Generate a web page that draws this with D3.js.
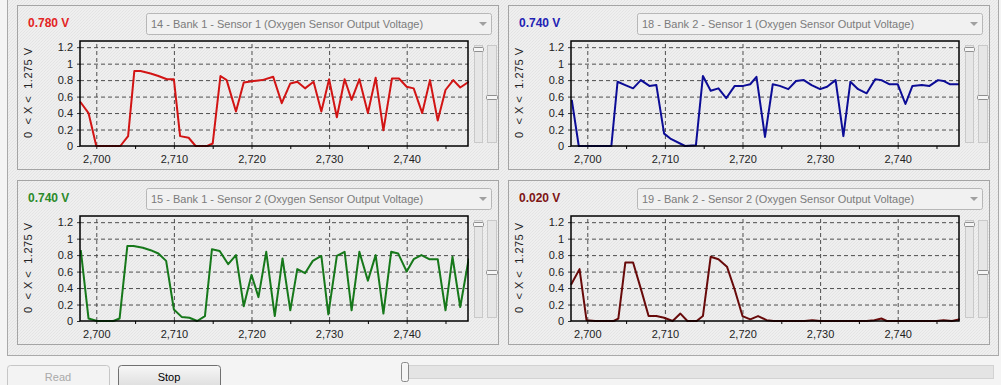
<!DOCTYPE html>
<html lang="en">
<head>
<meta charset="UTF-8">
<title>oxygen sensors</title>
<script src="https://d3js.org/d3.v7.min.js"></script>
<style>
  html, body { margin: 0; padding: 0; background: #f4f4f4; overflow: hidden; }
  svg { display: block; font-family: "Liberation Sans", Arial, sans-serif; }
</style>
</head>
<body>
<svg></svg>
<script>
const width = 1001;
const height = 385;

// axis setup
const xDomain = [2697.9, 2747.9];
const yDomain = [0, 1.275];
const xTicks = [2700, 2710, 2720, 2730, 2740];
const xMinorTicks = [2705, 2715, 2725, 2735, 2745];
const yTicks = [0, 0.2, 0.4, 0.6, 0.8, 1, 1.2];
const yLabel = "0  < X <  1.275 V";

const sensorNames = [
    "14 - Bank 1 - Sensor 1 (Oxygen Sensor Output Voltage)",
    "18 - Bank 2 - Sensor 1 (Oxygen Sensor Output Voltage)",
    "15 - Bank 1 - Sensor 2 (Oxygen Sensor Output Voltage)",
    "19 - Bank 2 - Sensor 2 (Oxygen Sensor Output Voltage)"
];
const readouts = ["0.780 V", "0.740 V", "0.740 V", "0.020 V"];

// bank 1 sensor 1
const b1s1Time = [2697.9, 2699, 2700, 2701, 2702, 2703.1, 2704.1, 2704.9, 2705.7, 2707, 2708, 2709.1, 2710, 2710.8, 2711.9, 2712.8, 2714.3, 2715, 2716, 2716.8, 2718, 2719, 2720.3, 2721.4, 2722.8, 2723.9, 2725, 2725.9, 2726.9, 2728, 2729, 2730, 2731, 2732, 2732.9, 2733.9, 2735, 2736, 2737, 2738.1, 2739, 2740, 2740.9, 2742, 2743, 2744, 2745, 2746, 2746.9, 2748];
const b1s1Volt = [0.54, 0.40, 0, 0, 0, 0, 0.12, 0.91, 0.91, 0.88, 0.85, 0.81, 0.81, 0.12, 0.10, 0, 0, 0.03, 0.85, 0.80, 0.42, 0.77, 0.79, 0.80, 0.84, 0.52, 0.76, 0.78, 0.70, 0.78, 0.42, 0.81, 0.35, 0.81, 0.56, 0.81, 0.40, 0.83, 0.19, 0.82, 0.82, 0.72, 0.70, 0.40, 0.80, 0.31, 0.68, 0.80, 0.71, 0.78];

// bank 2 sensor 1
const b2s1Time = [2698.0, 2698.9, 2700, 2701, 2702, 2703.1, 2703.9, 2704.9, 2705.9, 2706.9, 2708.0, 2708.9, 2709.9, 2710.7, 2712.6, 2714.0, 2714.9, 2715.9, 2716.9, 2717.9, 2719.0, 2720.1, 2721.0, 2721.8, 2722.9, 2723.9, 2724.8, 2725.9, 2726.9, 2727.9, 2728.9, 2730.0, 2730.9, 2732.0, 2733.0, 2733.9, 2734.9, 2736.0, 2737.1, 2737.9, 2738.9, 2740.0, 2741.0, 2741.9, 2743.1, 2744.1, 2745.2, 2745.9, 2746.7, 2747.9];
const b2s1Volt = [0.56, 0, 0, 0, 0, 0, 0.78, 0.74, 0.70, 0.80, 0.73, 0.74, 0.15, 0.09, 0, 0.01, 0.85, 0.67, 0.70, 0.58, 0.73, 0.73, 0.75, 0.84, 0.11, 0.75, 0.73, 0.69, 0.79, 0.80, 0.74, 0.69, 0.72, 0.80, 0.12, 0.78, 0.69, 0.64, 0.81, 0.80, 0.75, 0.75, 0.51, 0.73, 0.74, 0.73, 0.80, 0.79, 0.75, 0.75];

// bank 1 sensor 2
const b1s2Time = [2698.0, 2699.0, 2700.1, 2701, 2702.2, 2703.0, 2704.0, 2704.8, 2706, 2707.0, 2708.0, 2709.0, 2710.0, 2711.0, 2712.0, 2713.0, 2714.0, 2714.9, 2715.9, 2717.0, 2718.0, 2719.0, 2720.0, 2720.9, 2721.9, 2723.0, 2724.0, 2725.0, 2725.9, 2726.9, 2727.9, 2729.0, 2729.9, 2731.0, 2732.0, 2732.9, 2733.9, 2735.0, 2736.0, 2737.0, 2738.0, 2738.9, 2740.0, 2740.9, 2741.9, 2742.9, 2744.0, 2745.0, 2745.9, 2746.9, 2748.0];
const b1s2Volt = [0.86, 0.03, 0, 0, 0, 0.03, 0.91, 0.91, 0.89, 0.86, 0.82, 0.73, 0.14, 0.05, 0.04, 0, 0.06, 0.87, 0.85, 0.69, 0.80, 0.18, 0.56, 0.29, 0.84, 0.06, 0.76, 0.13, 0.63, 0.58, 0.73, 0.79, 0.08, 0.79, 0.84, 0.13, 0.84, 0.49, 0.80, 0.09, 0.84, 0.82, 0.60, 0.75, 0.80, 0.75, 0.75, 0.13, 0.78, 0.17, 0.76];

// bank 2 sensor 2
const b2s2Time = [2697.9, 2699, 2699.9, 2701, 2703.4, 2704, 2704.9, 2705.9, 2707, 2707.9, 2708.9, 2709.9, 2711, 2712, 2712.9, 2714.1, 2714.9, 2715.9, 2716.9, 2718, 2719, 2720, 2721, 2722, 2723.1, 2724, 2728, 2729, 2730, 2736, 2737, 2737.9, 2738.6, 2745, 2745.9, 2747, 2748];
const b2s2Volt = [0.44, 0.63, 0.01, 0, 0, 0.03, 0.71, 0.71, 0.36, 0.06, 0.06, 0.04, 0, 0.09, 0, 0, 0.06, 0.78, 0.75, 0.66, 0.38, 0.06, 0.02, 0.06, 0.01, 0, 0, 0.01, 0, 0, 0.01, 0.03, 0, 0, 0.01, 0, 0.02];

const lineColors = ["#d21414", "#0c0c96", "#16781a", "#680a0a"];
const readoutColors = ["#e32424", "#2222b4", "#2a8a2a", "#7e1414"];

const panels = [
    { col: 0, row: 0, time: b1s1Time, volt: b1s1Volt },
    { col: 1, row: 0, time: b2s1Time, volt: b2s1Volt },
    { col: 0, row: 1, time: b1s2Time, volt: b1s2Volt },
    { col: 1, row: 1, time: b2s2Time, volt: b2s2Volt }
];

const panelW = 481, panelH = 164;
const plot = { left: 63, top: 36, w: 388, h: 105 };

const svg = d3.select("svg")
    .attr("width", width)
    .attr("height", height);

// textured gray like the screenshot
const defs = svg.append("defs");
const tex = defs.append("pattern")
    .attr("id", "tex")
    .attr("width", 3).attr("height", 3)
    .attr("patternUnits", "userSpaceOnUse");
tex.append("rect").attr("width", 3).attr("height", 3).attr("fill", "#efefef");
tex.append("rect").attr("x", 0).attr("y", 0).attr("width", 1).attr("height", 1).attr("fill", "#e3e3e3");
tex.append("rect").attr("x", 2).attr("y", 1).attr("width", 1).attr("height", 1).attr("fill", "#e6e6e6");
tex.append("rect").attr("x", 1).attr("y", 2).attr("width", 1).attr("height", 1).attr("fill", "#e4e4e4");

const btnGrad = defs.append("linearGradient")
    .attr("id", "btn").attr("x1", 0).attr("y1", 0).attr("x2", 0).attr("y2", 1);
btnGrad.append("stop").attr("offset", "0%").attr("stop-color", "#f7f7f7");
btnGrad.append("stop").attr("offset", "100%").attr("stop-color", "#d9d9d9");

defs.append("clipPath").attr("id", "plotclip")
    .append("rect")
    .attr("x", -1).attr("y", -2)
    .attr("width", plot.w + 2).attr("height", plot.h + 4);

// outer group box
svg.append("rect")
    .attr("x", 7.5).attr("y", -5)
    .attr("width", 991).attr("height", 360.5)
    .attr("fill", "url(#tex)")
    .attr("stroke", "#a9a9a9");

const x = d3.scaleLinear().domain(xDomain).range([0, plot.w]);
const y = d3.scaleLinear().domain(yDomain).range([plot.h, 0]);

const line = d3.line()
    .x(d => x(d[0]))
    .y(d => y(d[1]));

panels.forEach((p, i) => {
    const g = svg.append("g")
        .attr("transform", `translate(${17 + p.col * 491}, ${5 + p.row * 175})`);

    g.append("rect")
        .attr("x", 0.5).attr("y", 0.5)
        .attr("width", panelW).attr("height", panelH)
        .attr("fill", "url(#tex)")
        .attr("stroke", "#a4a4a4");

    // current value
    g.append("text")
        .attr("x", 11).attr("y", 22)
        .attr("font-size", 12)
        .attr("font-weight", "bold")
        .attr("fill", readoutColors[i])
        .text(readouts[i]);

    // sensor selector
    const dd = g.append("g").attr("transform", "translate(129, 8)");
    dd.append("rect")
        .attr("x", 0.5).attr("y", 0.5)
        .attr("width", 345).attr("height", 21)
        .attr("rx", 2)
        .attr("fill", "#f1f1f1")
        .attr("stroke", "#b7b7b7");
    dd.append("text")
        .attr("x", 5).attr("y", 15)
        .attr("font-size", 11)
        .attr("fill", "#7b7b7b")
        .text(sensorNames[i]);
    dd.append("path")
        .attr("d", "M333,9 L341,9 L337,13 Z")
        .attr("fill", "#a0a0a0");

    // vertical scroll bars
    [[457, 8, 2], [470, 9, 50]].forEach(([sx, sw, thumbY]) => {
        g.append("rect")
            .attr("x", sx + 0.5).attr("y", 40.5)
            .attr("width", sw).attr("height", 97)
            .attr("fill", "#e6e6e6")
            .attr("stroke", "#c9c9c9");
        g.append("rect")
            .attr("x", sx - 0.5).attr("y", 40.5 + thumbY)
            .attr("width", sw + 2).attr("height", 4)
            .attr("rx", 1)
            .attr("fill", "#f6f6f6")
            .attr("stroke", "#8f8f8f");
    });

    // y axis title
    g.append("text")
        .attr("transform", `translate(14.5, ${36 + 52}) rotate(-90)`)
        .attr("text-anchor", "middle")
        .attr("font-size", 11)
        .attr("fill", "#222")
        .attr("textLength", 90)
        .attr("lengthAdjust", "spacing")
        .style("white-space", "pre")
        .text(yLabel);

    const pg = g.append("g").attr("transform", `translate(${plot.left}, ${plot.top})`);

    pg.append("rect")
        .attr("width", plot.w).attr("height", plot.h)
        .attr("fill", "url(#tex)");

    // dashed grid
    pg.append("g")
        .attr("class", "grid")
        .call(d3.axisLeft(y).tickValues(yTicks.slice(1)).tickSize(-plot.w).tickFormat(""));
    pg.append("g")
        .attr("class", "grid")
        .attr("transform", `translate(0, ${plot.h})`)
        .call(d3.axisBottom(x).tickValues(xTicks).tickSize(-plot.h).tickFormat(""));
    pg.selectAll(".grid .domain").remove();
    pg.selectAll(".grid line")
        .attr("stroke", "#4e4e4e")
        .attr("stroke-dasharray", "4,3");

    // axes
    const ya = pg.append("g")
        .call(d3.axisLeft(y).tickValues(yTicks).tickSize(3).tickPadding(4)
            .tickFormat(d => String(+d.toFixed(1))));
    const xa = pg.append("g")
        .attr("transform", `translate(0, ${plot.h})`)
        .call(d3.axisBottom(x).tickValues(xTicks).tickSize(3).tickPadding(6)
            .tickFormat(d3.format(",")));
    pg.append("g")
        .attr("transform", `translate(0, ${plot.h})`)
        .call(d3.axisBottom(x).tickValues(xMinorTicks).tickSize(3).tickFormat(""))
        .select(".domain").remove();
    [ya, xa].forEach(a => {
        a.select(".domain").remove();
        a.selectAll("text").attr("font-size", 11).attr("font-family", "Liberation Sans, Arial, sans-serif").attr("fill", "#222");
        a.selectAll("line").attr("stroke", "#333");
    });

    pg.append("path")
        .datum(d3.zip(p.time, p.volt))
        .attr("clip-path", "url(#plotclip)")
        .attr("fill", "none")
        .attr("stroke", lineColors[i])
        .attr("stroke-width", 2)
        .attr("stroke-linejoin", "round")
        .attr("d", line);

    pg.append("rect")
        .attr("width", plot.w).attr("height", plot.h)
        .attr("fill", "none")
        .attr("stroke", "#000")
        .attr("stroke-width", 1.5);
});

// bottom controls
const readBtn = svg.append("g").attr("transform", "translate(7, 365)");
readBtn.append("rect")
    .attr("x", 0.5).attr("y", 0.5).attr("width", 102).attr("height", 26).attr("rx", 3)
    .attr("fill", "#f3f3f3").attr("stroke", "#c6c6c6");
readBtn.append("text")
    .attr("x", 51).attr("y", 15.5).attr("text-anchor", "middle")
    .attr("font-size", 11).attr("fill", "#a9a9a9")
    .text("Read");

const stopBtn = svg.append("g").attr("transform", "translate(118, 365)");
stopBtn.append("rect")
    .attr("x", 0.5).attr("y", 0.5).attr("width", 102).attr("height", 26).attr("rx", 3)
    .attr("fill", "url(#btn)").attr("stroke", "#707070");
stopBtn.append("text")
    .attr("x", 51).attr("y", 15.5).attr("text-anchor", "middle")
    .attr("font-size", 11).attr("fill", "#000")
    .text("Stop");

svg.append("rect")
    .attr("x", 404.5).attr("y", 365.5).attr("width", 589).attr("height", 13)
    .attr("fill", "#e4e4e4").attr("stroke", "#d2d2d2");
svg.append("rect")
    .attr("x", 401.5).attr("y", 362.5).attr("width", 7).attr("height", 19).attr("rx", 2)
    .attr("fill", "#f5f5f5").attr("stroke", "#8a8a8a");
</script>
</body>
</html>
